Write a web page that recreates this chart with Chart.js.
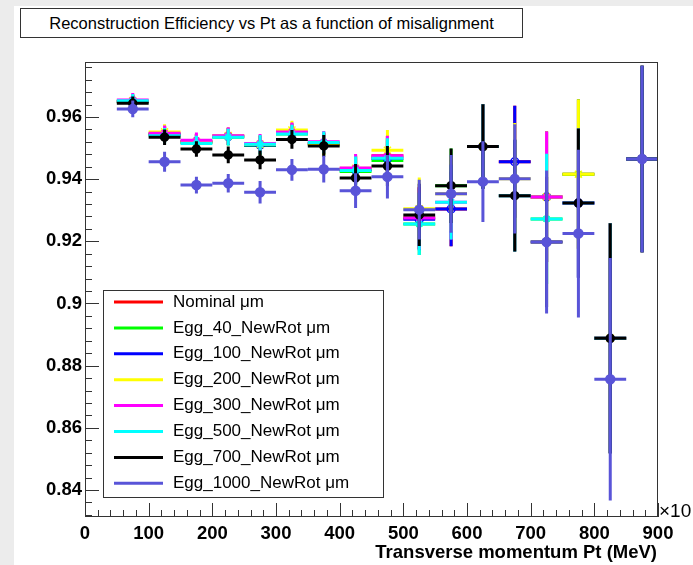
<!DOCTYPE html>
<html>
<head>
<meta charset="utf-8">
<script src="https://cdn.jsdelivr.net/npm/chart.js@4.4.0/dist/chart.umd.min.js"></script>
<style>
  html, body { margin: 0; padding: 0; background: #ececec; }
  #wrap { position: relative; width: 693px; height: 565px; }
  #plot { position: absolute; left: 0; top: 0; }
  #title {
    position: absolute; left: 20px; top: 8px; width: 501px; height: 28px;
    border: 1px solid #333; background: #fff;
    font: 16.5px "Liberation Sans", Arial, sans-serif;
    line-height: 28px; text-align: center; color: #000;
  }
</style>
</head>
<body>
<div id="wrap">
  <canvas id="plot" width="693" height="565"></canvas>
  <div id="title">Reconstruction Efficiency vs Pt as a function of misalignment</div>
</div>
<script>
// bin centres (bin width 50)
const binCenters = [75, 125, 175, 225, 275, 325, 375, 425, 475, 525, 575, 625, 675, 725, 775, 825, 875];
const binHalfWidth = 25;

const effNominal = [0.9650, 0.9545, 0.9520, 0.9538, 0.9510, 0.9548, 0.9515, 0.9432, 0.9475, 0.9275, 0.9304, 0.9505, 0.9456, 0.9343, 0.9416, 0.8888, 0.9465];
const effEgg40   = [0.9648, 0.9543, 0.9518, 0.9535, 0.9508, 0.9545, 0.9512, 0.9425, 0.9460, 0.9256, 0.9379, 0.9505, 0.9347, 0.9272, 0.9416, 0.8888, 0.9465];
const effEgg100  = [0.9650, 0.9545, 0.9520, 0.9538, 0.9510, 0.9550, 0.9515, 0.9430, 0.9467, 0.9271, 0.9304, 0.9505, 0.9456, 0.9343, 0.9323, 0.8888, 0.9465];
const effEgg200  = [0.9652, 0.9552, 0.9520, 0.9540, 0.9512, 0.9558, 0.9512, 0.9435, 0.9493, 0.9305, 0.9353, 0.9505, 0.9401, 0.9343, 0.9416, 0.8888, 0.9465];
const effEgg300  = [0.9655, 0.9548, 0.9525, 0.9540, 0.9515, 0.9552, 0.9520, 0.9436, 0.9475, 0.9275, 0.9326, 0.9505, 0.9347, 0.9343, 0.9323, 0.8888, 0.9465];
const effEgg500  = [0.9652, 0.9540, 0.9515, 0.9535, 0.9512, 0.9545, 0.9518, 0.9428, 0.9467, 0.9256, 0.9326, 0.9505, 0.9347, 0.9272, 0.9323, 0.8888, 0.9465];
const effEgg700  = [0.9644, 0.9535, 0.9497, 0.9478, 0.9462, 0.9528, 0.9507, 0.9404, 0.9442, 0.9285, 0.9379, 0.9505, 0.9347, 0.9198, 0.9323, 0.8888, 0.9465];
const effEgg1000 = [0.9626, 0.9456, 0.9381, 0.9387, 0.9358, 0.9430, 0.9432, 0.9363, 0.9408, 0.9302, 0.9353, 0.9392, 0.9401, 0.9198, 0.9225, 0.8756, 0.9465];

// statistical errors (half length)
const errCore = [0.0022, 0.0025, 0.0025, 0.0027, 0.0030, 0.0030, 0.0035, 0.0045, 0.0065, 0.0100, 0.0120, 0.0136, 0.0180, 0.0210, 0.0240, 0.0370, 0.0300];
const errWide = [0.0027, 0.0032, 0.0027, 0.0030, 0.0036, 0.0035, 0.0043, 0.0056, 0.0070, 0.0096, 0.0125, 0.0130, 0.0176, 0.0230, 0.0270, 0.0390, 0.0300];

const yTicks = [0.84, 0.86, 0.88, 0.9, 0.92, 0.94, 0.96];
const xTicks = [0, 100, 200, 300, 400, 500, 600, 700, 800, 900];

const seriesDefs = [
  { label: 'Nominal \u03bcm',        data: effNominal, err: errCore, color: '#ff0000', style: 'cross',    r: 3 },
  { label: 'Egg_40_NewRot \u03bcm',   data: effEgg40,   err: errCore, color: '#00ff00', style: 'crossRot', r: 4 },
  { label: 'Egg_100_NewRot \u03bcm',  data: effEgg100,  err: errCore, color: '#0000ff', style: 'circle',   r: 4, open: true },
  { label: 'Egg_200_NewRot \u03bcm',  data: effEgg200,  err: errCore, color: '#ffff00', style: 'star',     r: 5 },
  { label: 'Egg_300_NewRot \u03bcm',  data: effEgg300,  err: errCore, color: '#ff00ff', style: 'crossRot', r: 4 },
  { label: 'Egg_500_NewRot \u03bcm',  data: effEgg500,  err: errCore, color: '#00ffff', style: 'crossRot', r: 4 },
  { label: 'Egg_700_NewRot \u03bcm',  data: effEgg700,  err: errCore, color: '#000000', style: 'circle',   r: 4 },
  { label: 'Egg_1000_NewRot \u03bcm', data: effEgg1000, err: errWide, color: '#5954d8', style: 'circle',   r: 4.5 }
];

const AXIS_FONT = '"Liberation Sans", Arial, sans-serif';

const datasets = seriesDefs.map((s, i) => ({
  label: s.label,
  data: binCenters.map((x, k) => ({ x: x, y: s.data[k] })),
  errY: s.err,
  borderColor: s.color,
  backgroundColor: s.open ? 'rgba(0,0,0,0)' : s.color,
  pointStyle: s.style,
  pointRadius: s.r,
  pointHoverRadius: s.r,
  pointBorderWidth: 1.5,
  pointBorderColor: s.color,
  showLine: false,
  order: seriesDefs.length - i
}));

// page background and white pad
const padPlugin = {
  id: 'pad',
  beforeDraw(chart) {
    const ctx = chart.ctx;
    ctx.save();
    ctx.fillStyle = '#ececec';
    ctx.fillRect(0, 0, chart.width, chart.height);
    ctx.fillStyle = '#ffffff';
    ctx.fillRect(14, 6, chart.width - 14, chart.height - 6);
    ctx.restore();
  }
};

// error bars, drawn just before each dataset's markers
const errorBarPlugin = {
  id: 'errbars',
  beforeDatasetDraw(chart, args) {
    const ds = chart.data.datasets[args.index];
    const xs = chart.scales.x, ys = chart.scales.y;
    const ctx = chart.ctx;
    ctx.save();
    ctx.beginPath();
    const a = chart.chartArea;
    ctx.rect(a.left, a.top, a.right - a.left, a.bottom - a.top);
    ctx.clip();
    ctx.strokeStyle = ds.borderColor;
    ctx.lineWidth = 3;
    ds.data.forEach((p, k) => {
      const e = ds.errY[k];
      const px = xs.getPixelForValue(p.x);
      const py = ys.getPixelForValue(p.y);
      ctx.beginPath();
      ctx.moveTo(xs.getPixelForValue(p.x - binHalfWidth), py);
      ctx.lineTo(xs.getPixelForValue(p.x + binHalfWidth), py);
      ctx.moveTo(px, ys.getPixelForValue(p.y - e));
      ctx.lineTo(px, ys.getPixelForValue(p.y + e));
      ctx.stroke();
    });
    ctx.restore();
  }
};

// ROOT-like frame, inner ticks, legend and axis title
const framePlugin = {
  id: 'frame',
  afterDraw(chart) {
    const ctx = chart.ctx;
    const a = chart.chartArea;
    const xs = chart.scales.x, ys = chart.scales.y;
    ctx.save();
    ctx.strokeStyle = '#333';
    ctx.lineWidth = 1;
    ctx.strokeRect(Math.round(a.left) + 0.5, Math.round(a.top) + 0.5,
      Math.round(a.right - a.left) - 1, Math.round(a.bottom - a.top) - 1);

    // y ticks: major 0.02, minor 0.004
    ctx.beginPath();
    for (let k = 208; k <= 244; k++) {
      const v = k * 0.004;
      if (v < ys.min || v > ys.max) continue;
      const py = Math.round(ys.getPixelForValue(v)) + 0.5;
      const len = (k % 5 === 0) ? 14 : 7;
      ctx.moveTo(a.left, py);
      ctx.lineTo(a.left + len, py);
    }
    // x ticks: major 100, minor 20
    for (let k = 0; k <= 45; k++) {
      const v = k * 20;
      const px = Math.round(xs.getPixelForValue(v)) + 0.5;
      const len = (k % 5 === 0) ? 14 : 7;
      ctx.moveTo(px, a.bottom);
      ctx.lineTo(px, a.bottom - len);
    }
    ctx.stroke();

    // exponent and axis title
    ctx.fillStyle = '#000';
    ctx.textBaseline = 'middle';
    ctx.textAlign = 'left';
    ctx.font = '19px "Liberation Sans", Arial, sans-serif';
    ctx.fillText('\u00d710', 659, 512);
    ctx.textAlign = 'right';
    ctx.font = 'bold 18.5px ' + AXIS_FONT;
    ctx.fillText('Transverse momentum Pt (MeV)', 657, 553);

    // legend
    const lx = 103, ly = 290, lw = 280, lh = 207;
    ctx.fillStyle = '#fff';
    ctx.fillRect(lx, ly, lw, lh);
    ctx.strokeStyle = '#333';
    ctx.strokeRect(lx + 0.5, ly + 0.5, lw, lh);
    ctx.font = '17px "Liberation Sans", Arial, sans-serif';
    ctx.textAlign = 'left';
    seriesDefs.forEach((s, i) => {
      const ry = 302 + i * 25.9;
      ctx.strokeStyle = s.color;
      ctx.lineWidth = 3;
      ctx.beginPath();
      ctx.moveTo(114, ry);
      ctx.lineTo(163, ry);
      ctx.stroke();
      ctx.fillStyle = '#000';
      ctx.fillText(s.label, 173, ry);
    });
    ctx.restore();
  }
};

new Chart(document.getElementById('plot'), {
  type: 'scatter',
  data: { datasets: datasets },
  plugins: [padPlugin, errorBarPlugin, framePlugin],
  options: {
    responsive: false,
    animation: false,
    devicePixelRatio: 1,
    layout: { padding: { left: 0, top: 62, right: 35, bottom: 0 } },
    plugins: { legend: { display: false }, tooltip: { enabled: false } },
    scales: {
      x: {
        type: 'linear', min: 0, max: 900,
        grid: { display: false, drawTicks: false, tickLength: 0 },
        border: { display: false },
        afterFit: (s) => { s.height = 48; },
        afterBuildTicks: (s) => { s.ticks = xTicks.map(v => ({ value: v })); },
        ticks: {
          padding: 6, color: '#000',
          font: { family: AXIS_FONT, size: 18.5, weight: 'bold' },
          maxRotation: 0, autoSkip: false
        }
      },
      y: {
        type: 'linear', min: 0.8313, max: 0.9777,
        grid: { display: false, drawTicks: false, tickLength: 0 },
        border: { display: false },
        afterFit: (s) => { s.width = 85; },
        afterBuildTicks: (s) => { s.ticks = yTicks.map(v => ({ value: v })); },
        ticks: {
          padding: 3, color: '#000',
          font: { family: AXIS_FONT, size: 18.5, weight: 'bold' },
          callback: (v) => String(+Number(v).toFixed(2))
        }
      }
    }
  }
});
</script>
</body>
</html>
